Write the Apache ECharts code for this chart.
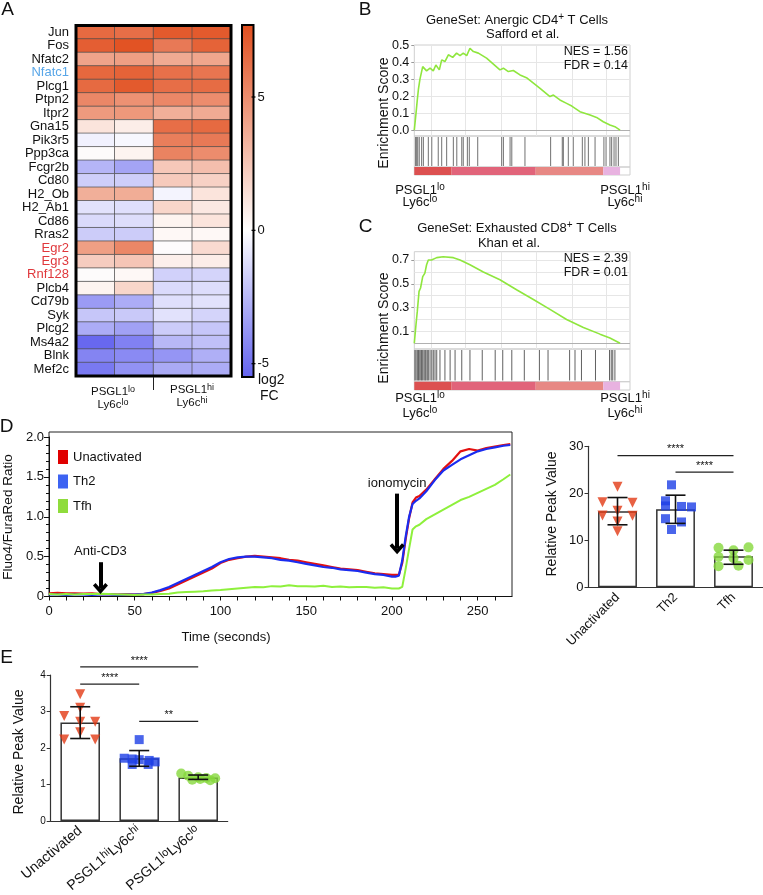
<!DOCTYPE html>
<html><head><meta charset="utf-8"><title>Figure</title>
<script src="https://cdn.jsdelivr.net/npm/echarts@6.0.0/dist/echarts.min.js"></script>
<style>html,body{margin:0;padding:0;background:#fff;}#chart{width:763px;height:895px;}</style>
</head><body><div id="chart"></div>
<script>
// ================= DATA =================
// Panel A: heatmap (log2 FC)
const genes = ['Jun','Fos','Nfatc2','Nfatc1','Plcg1','Ptpn2','Itpr2','Gna15','Pik3r5','Ppp3ca','Fcgr2b','Cd80','H2_Ob','H2_Ab1','Cd86','Rras2','Egr2','Egr3','Rnf128','Plcb4','Cd79b','Syk','Plcg2','Ms4a2','Blnk','Mef2c'];
const heatColumns = ['lo_1','lo_2','hi_1','hi_2'];
const heatLo1 = [6.5,7.0,4.0,6.6,6.5,5.2,4.4,1.2,-0.5,0.1,-2.6,-1.7,3.5,-1.0,-1.3,-1.8,4.2,2.2,0.1,0.5,-3.5,-2.0,-2.9,-5.3,-4.3,-4.7];
const heatLo2 = [6.3,7.5,4.2,6.8,7.2,4.8,4.5,0.8,-0.3,0.5,-3.2,-1.7,3.6,-1.1,-1.2,-1.8,5.2,2.5,0.3,1.8,-2.9,-1.9,-3.3,-4.4,-4.1,-3.8];
const heatHi1 = [7.2,5.8,3.7,6.2,6.3,5.2,3.5,6.3,5.6,5.4,2.4,2.3,-0.4,1.8,0.5,0.3,0.05,0.7,-1.6,-1.3,-1.1,-1.0,-1.8,-2.5,-3.7,-3.0];
const heatHi2 = [7.2,6.8,3.9,6.0,6.4,5.0,3.7,6.5,5.8,5.0,2.8,2.0,1.2,1.0,1.2,0.3,1.6,0.8,-1.5,-1.2,-1.0,-1.5,-2.0,-2.2,-2.8,-2.9];
const heatMin = -5.5, heatMax = 7.7;
const colorbarTicks = [5, 0, -5];
const geneLabelColors = {Nfatc1:'#58a6e8', Egr2:'#e0383c', Egr3:'#e0383c', Rnf128:'#e0383c'};

// Panel B: GSEA anergic CD4
const gseaB_rank = [0,0.8,1.4,1.9,2.6,3.9,5.7,7.3,8.8,10,11.6,12.7,14.2,15.8,17.8,19.6,21.2,22.7,24.3,25.8,27.4,29.7,33.5,39.7,41.3,43.6,45.9,49,52,58.3,62.9,64.5,67.5,70.6,73,76.8,81.5,84.5,87.6,90.7,93,95.4];
const gseaB_es = [0,0.1,0.18,0.24,0.3,0.375,0.35,0.366,0.35,0.385,0.356,0.415,0.405,0.445,0.43,0.455,0.44,0.455,0.44,0.484,0.464,0.455,0.425,0.356,0.366,0.346,0.352,0.326,0.31,0.247,0.198,0.207,0.178,0.158,0.142,0.109,0.089,0.075,0.049,0.03,0.02,0];
const gseaB_hits = [0.6,1.1,1.6,2.3,3.4,4.2,6.5,8.1,11.1,12.7,15,18.1,19.7,22,22.7,24.6,25.5,29.4,40.5,41.3,44.4,45.2,51.3,63.2,68.6,69.1,71.4,73.7,77.9,79.1,80.7,83.8,87.9,88.9,90.7,91.5,92.6,93.5,94.6];
const gseaB_ticks = [0,0.1,0.2,0.3,0.4,0.5];

// Panel C: GSEA exhausted CD8
const gseaC_rank = [0,0.8,1.4,2.2,2.9,3.9,4.9,5.7,6.5,8,10.4,13.4,18.1,21.2,25.8,32,39.7,47.4,55.2,62.9,70.6,78.4,86.1,90.7,95.4];
const gseaC_es = [0,0.16,0.27,0.437,0.465,0.56,0.59,0.66,0.7,0.7,0.72,0.728,0.72,0.7,0.66,0.6,0.534,0.45,0.368,0.285,0.2,0.133,0.077,0.044,0];
const gseaC_hits = [0.3,0.8,1.4,1.9,2.3,3,3.4,3.9,4.5,5,5.4,6,6.5,7.3,8.1,8.8,9.6,10.4,11.9,14.2,16.6,18.9,22,25.8,31.5,37.5,41,45.2,51,58,62,72,74.5,77.5,84,90.5,91.3,92,93];
const gseaC_ticks = [0,0.1,0.3,0.5,0.7];

const gseaGridX = [7.7,23.5,40.5,56.7,73,89.2];
const gseaBandEdges = [0,17.3,56.3,87.6,95.4];

// Panel D: calcium flux
const timeSec = [0,5,10,15,20,25,30,35,40,45,50,55,60,65,70,75,80,85,90,95,100,105,110,115,120,125,130,135,140,145,150,155,160,165,170,175,180,185,190,195,200,202,204,206,208,210,212,214,216,220,225,230,235,240,245,250,255,260,265,269];
const unactRatio = [0.04,0.045,0.04,0.04,0.035,0.04,0.03,0.03,0.025,0.03,0.025,0.03,0.045,0.07,0.1,0.15,0.2,0.25,0.3,0.35,0.42,0.46,0.48,0.5,0.51,0.5,0.49,0.48,0.46,0.45,0.43,0.41,0.39,0.37,0.35,0.34,0.33,0.31,0.29,0.28,0.27,0.27,0.27,0.42,0.72,0.98,1.18,1.24,1.26,1.34,1.47,1.6,1.7,1.82,1.85,1.83,1.86,1.88,1.9,1.91];
const th2Ratio = [0.025,0.025,0.02,0.025,0.025,0.02,0.025,0.025,0.02,0.025,0.025,0.03,0.05,0.08,0.12,0.17,0.22,0.27,0.32,0.37,0.43,0.47,0.49,0.5,0.5,0.49,0.48,0.46,0.45,0.43,0.41,0.39,0.37,0.36,0.34,0.33,0.32,0.3,0.28,0.27,0.25,0.25,0.26,0.45,0.75,1.0,1.16,1.2,1.23,1.32,1.46,1.58,1.65,1.72,1.77,1.82,1.85,1.87,1.89,1.9];
const tfhRatio = [0.03,0.025,0.03,0.025,0.03,0.03,0.035,0.03,0.025,0.025,0.02,0.025,0.025,0.03,0.035,0.05,0.055,0.06,0.065,0.075,0.08,0.09,0.1,0.11,0.12,0.115,0.13,0.125,0.14,0.13,0.13,0.125,0.135,0.12,0.125,0.115,0.12,0.12,0.11,0.115,0.1,0.1,0.1,0.12,0.35,0.6,0.84,0.88,0.9,0.97,1.03,1.09,1.15,1.21,1.25,1.3,1.35,1.4,1.47,1.53];

const dCats = ['Unactivated','Th2','Tfh'];
const dMeans = [16.2,16.6,6.6];
const dSdLow = [13.3,13.6,4.9];
const dSdHigh = [19.1,19.6,7.9];
const dPtsUnact = [21.4,18.1,18.0,16.3,15.3,15.2,14.0,11.9];
const dPtsTh2 = [21.8,18.4,17.3,17.2,17.1,14.6,13.9,12.3];
const dPtsTfh = [8.4,8.5,7.9,6.5,6.2,5.8,4.5,4.6];

// Panel E
const eCats = ['Unactivated','PSGL1^hi Ly6c^hi','PSGL1^lo Ly6c^lo'];
const eMeans = [2.7,1.72,1.19];
const eSdLow = [2.26,1.5,1.14];
const eSdHigh = [3.13,1.93,1.26];
const ePtsUnact = [3.47,3.1,2.88,2.72,2.72,2.43,2.23,2.23];
const ePtsHi = [2.23,1.72,1.7,1.68,1.66,1.62,1.55,1.55];
const ePtsLo = [1.3,1.24,1.2,1.18,1.17,1.15,1.13,1.12];

// ================= STYLE / LAYOUT =================
const FONT = '"Liberation Sans", Arial, Helvetica, sans-serif';
const INK = '#111';
// horizontal jitter (px) for dot plots, layout only
const jitterD = [[0,-15,15,0,-15,15,0,0],[-4,-10,-10,6,16,-10,6,-4],[-15,15,0,-15,0,15,-15,5]];
const jitterE = [[0,0,-16,15,0,0,-16,15],[0,-15,-7,0,10,16,-7,9],[-17,-10,0,8,17,2,-6,12]];
const bandColors = ['#dc5050','#e1647a','#e78884','#e8b2e0'];
const esColor = '#8fe63e';

function sup(str){
  return str.split(' ').map(p => { const a = p.split('^'); return '{n|' + a[0] + '}' + (a[1] ? '{s|' + a[1] + '}' : ''); }).join('');
}
function supRich(fs, sfs){
  return { n:{fontSize:fs, fontFamily:FONT, color:INK, lineHeight:fs+3},
           s:{fontSize:sfs, fontFamily:FONT, color:INK, lineHeight:Math.round(sfs*0.5), verticalAlign:'top'} };
}
function heatColor(v){
  const hi=[225,78,30], lo=[98,98,238];
  let t, c;
  if (v >= 0) { t = Math.min(1, v/heatMax); c = hi; } else { t = Math.min(1, v/heatMin); c = lo; }
  const m = k => Math.round(255 + (c[k]-255)*t);
  return 'rgb(' + m(0) + ',' + m(1) + ',' + m(2) + ')';
}
const heatStops = [];
for (let i = 0; i <= 44; i++) heatStops.push(heatColor(heatMin + (heatMax-heatMin)*i/44));

const heatData = [];
const heatCols = [heatLo1, heatLo2, heatHi1, heatHi2];
genes.forEach((g, r) => heatCols.forEach((col, c) => heatData.push([c, r, col[r]])));

function errRender(cap){
  return function(params, api){
    const x = api.value(0), lo = api.value(1), hi = api.value(2);
    const a = api.coord([x, lo]), b = api.coord([x, hi]);
    const st = {stroke:'#111', lineWidth:1.6};
    return {type:'group', children:[
      {type:'line', shape:{x1:a[0],y1:a[1],x2:b[0],y2:b[1]}, style:st},
      {type:'line', shape:{x1:a[0]-cap,y1:a[1],x2:a[0]+cap,y2:a[1]}, style:st},
      {type:'line', shape:{x1:b[0]-cap,y1:b[1],x2:b[0]+cap,y2:b[1]}, style:st}
    ]};
  };
}
function sigRender(labels){
  return function(params, api){
    const a = api.coord([api.value(0), api.value(2)]), b = api.coord([api.value(1), api.value(2)]);
    return {type:'group', children:[
      {type:'line', shape:{x1:a[0],y1:a[1],x2:b[0],y2:b[1]}, style:{stroke:'#222', lineWidth:1.3}},
      {type:'text', style:{text:labels[params.dataIndex], x:(a[0]+b[0])/2, y:a[1]-1, align:'center', verticalAlign:'bottom', fontSize:11, fontFamily:FONT, fill:INK}}
    ]};
  };
}
function bandRender(params, api){
  const p0 = api.coord([api.value(0), 1]), p1 = api.coord([api.value(1), 0]);
  return {type:'rect', shape:{x:p0[0], y:p0[1], width:p1[0]-p0[0], height:p1[1]-p0[1]}, style:{fill:bandColors[params.dataIndex]}};
}
const bandData = bandColors.map((c, i) => [gseaBandEdges[i], gseaBandEdges[i+1]]);

function pts(vals, cat, jit){ return vals.map((v, i) => ({value:[cat, v], symbolOffset:[jit[i], 0]})); }

const hidden = {show:false};
function hiddenX(grid, min, max){ return {type:'value', gridIndex:grid, min:min, max:max, show:false}; }
function hiddenY(grid, min, max){ return {type:'value', gridIndex:grid, min:min, max:max, show:false}; }
function esY(grid, min, max, ticks){
  return {type:'value', gridIndex:grid, min:min, max:max, splitLine:hidden, axisLine:hidden,
    axisTick:{show:true, customValues:ticks, length:3, lineStyle:{color:'#999'}},
    axisLabel:{customValues:ticks, formatter:v=>v.toFixed(1), fontSize:12.5, fontFamily:FONT, color:INK, margin:5}};
}
function esGridLines(ticksMax){
  const d = gseaGridX.map(x => ({xAxis:x}));
  for (let v = 1; v <= ticksMax; v++) d.push({yAxis:v/10});
  d.push({yAxis:0, lineStyle:{color:'#b0b0b0'}});
  return {silent:true, z:1, symbol:['none','none'], label:{show:false}, lineStyle:{color:'#e6e6e6', width:1, type:'solid'}, data:d};
}
const gseaL = 414.3, gseaW = 215.7;
const boxStyle = {show:true, borderColor:'#cfcfcf', borderWidth:1};

const catAxisCommon = {
  axisLine:{lineStyle:{color:'#333', width:1.2}},
  axisTick:{alignWithLabel:true, length:4, lineStyle:{color:'#333'}}
};

const option = {
  animation:false,
  backgroundColor:'#fff',
  textStyle:{fontFamily:FONT},
  grid:[
    {left:76, top:25.5, width:155, height:350.5},                 // 0 heatmap
    Object.assign({left:gseaL, top:45, width:gseaW, height:91}, boxStyle),     // 1 B ES
    Object.assign({left:gseaL, top:136, width:gseaW, height:31}, boxStyle),    // 2 B hits
    Object.assign({left:gseaL, top:167, width:gseaW, height:8}, boxStyle),     // 3 B band
    Object.assign({left:gseaL, top:251.7, width:gseaW, height:97.3}, boxStyle),// 4 C ES
    Object.assign({left:gseaL, top:349, width:gseaW, height:32.7}, boxStyle),  // 5 C hits
    Object.assign({left:gseaL, top:381.7, width:gseaW, height:8.3}, boxStyle), // 6 C band
    {left:49, top:437, width:463, height:159.5},                  // 7 D line
    {left:588.5, top:446.3, width:174, height:141},               // 8 D bar
    {left:50.7, top:675, width:177, height:148.3}                 // 9 E bar
  ],
  xAxis:[
    {type:'category', gridIndex:0, data:heatColumns, show:false},
    hiddenX(1,0,100), hiddenX(2,0,100), hiddenX(3,0,100),
    hiddenX(4,0,100), hiddenX(5,0,100), hiddenX(6,0,100),
    {type:'value', gridIndex:7, min:0, max:270, interval:10, splitLine:hidden,
      axisLine:{lineStyle:{color:'#111', width:1}}, axisTick:{length:4, lineStyle:{color:'#111'}},
      axisLabel:{formatter:v => (v % 50 === 0 ? String(v) : ''), fontSize:13, color:INK, margin:8, showMaxLabel:false}},
    Object.assign({type:'category', gridIndex:8, data:dCats,
      axisLabel:{interval:0, rotate:45, fontSize:13, color:INK, margin:8}}, catAxisCommon),
    Object.assign({type:'category', gridIndex:9, data:eCats,
      axisLabel:{interval:0, rotate:40, margin:8, formatter:v => sup(v), rich:supRich(14, 11)}}, catAxisCommon)
  ],
  yAxis:[
    {type:'category', gridIndex:0, data:genes, inverse:true, axisLine:hidden, axisTick:hidden,
      axisLabel:{interval:0, fontSize:13, margin:7, color:v => geneLabelColors[v] || INK}},
    esY(1, -0.035, 0.503, gseaB_ticks), hiddenY(2,0,1), hiddenY(3,0,1),
    esY(4, -0.048, 0.77, gseaC_ticks), hiddenY(5,0,1), hiddenY(6,0,1),
    {type:'value', gridIndex:7, min:0, max:2, interval:0.5, splitLine:hidden,
      axisLine:{show:true, lineStyle:{color:'#111'}}, axisTick:{show:true, length:5, lineStyle:{color:'#111'}},
      minorTick:{show:true, splitNumber:5, length:3, lineStyle:{color:'#111'}},
      axisLabel:{formatter:v => (v === 0 ? '0' : v.toFixed(1)), fontSize:13, color:INK, margin:5}},
    {type:'value', gridIndex:8, min:0, max:30, interval:10, splitLine:hidden,
      axisLine:{show:true, lineStyle:{color:'#333', width:1.2}}, axisTick:{show:true, length:4, lineStyle:{color:'#333'}},
      axisLabel:{fontSize:13, color:INK, margin:5}},
    {type:'value', gridIndex:9, min:0, max:4, interval:1, splitLine:hidden,
      axisLine:{show:true, lineStyle:{color:'#333', width:1.2}}, axisTick:{show:true, length:4, lineStyle:{color:'#333'}},
      axisLabel:{fontSize:10, color:INK, margin:5}}
  ],
  visualMap:[{type:'continuous', show:false, seriesIndex:0, dimension:2, min:heatMin, max:heatMax, inRange:{color:heatStops}}],
  legend:{orient:'vertical', left:53, top:445, itemWidth:10, itemHeight:14, itemGap:10.5, icon:'rect', selectedMode:false,
    textStyle:{fontSize:13, color:INK, fontFamily:FONT},
    data:[{name:'Unactivated', itemStyle:{color:'#e00000'}}, {name:'Th2', itemStyle:{color:'#3d63f2'}}, {name:'Tfh', itemStyle:{color:'#8fdc3c'}}]},
  series:[
    {type:'heatmap', xAxisIndex:0, yAxisIndex:0, data:heatData, itemStyle:{borderColor:'#4a4a4a', borderWidth:0.7}, emphasis:{disabled:true}},
    // B
    {type:'line', name:'esB', xAxisIndex:1, yAxisIndex:1, z:3, data:gseaB_rank.map((x,i)=>[x, gseaB_es[i]]), showSymbol:false, lineStyle:{color:esColor, width:1.6}, markLine:esGridLines(5)},
    {type:'scatter', name:'hitsB', xAxisIndex:2, yAxisIndex:2, data:gseaB_hits.map(h=>[h,0.5]), symbol:'rect', symbolSize:[1,29], itemStyle:{color:'#4d4d4d'}, silent:true},
    {type:'custom', name:'bandB', xAxisIndex:3, yAxisIndex:3, data:bandData, renderItem:bandRender, silent:true},
    // C
    {type:'line', name:'esC', xAxisIndex:4, yAxisIndex:4, z:3, data:gseaC_rank.map((x,i)=>[x, gseaC_es[i]]), showSymbol:false, lineStyle:{color:esColor, width:1.6}, markLine:esGridLines(7)},
    {type:'scatter', name:'hitsC', xAxisIndex:5, yAxisIndex:5, data:gseaC_hits.map(h=>[h,0.5]), symbol:'rect', symbolSize:[1,30.5], itemStyle:{color:'#3a3a3a'}, silent:true},
    {type:'custom', name:'bandC', xAxisIndex:6, yAxisIndex:6, data:bandData, renderItem:bandRender, silent:true},
    // D line
    {type:'line', name:'Unactivated', xAxisIndex:7, yAxisIndex:7, data:timeSec.map((t,i)=>[t, unactRatio[i]]), showSymbol:false, color:'#e31010', lineStyle:{color:'#e31010', width:2.2},
      markLine:{silent:true, symbol:['none','path://M0,10 L10,0 L20,10 L16.5,13 L10,6.5 L3.5,13 Z'], symbolSize:[15,11], lineStyle:{color:'#000', width:4, type:'solid'},
        label:{show:true, position:'start', formatter:'{b}', fontSize:13, color:INK, fontFamily:FONT, distance:4},
        data:[[{coord:[30,0.43], name:'Anti-CD3'},{coord:[30,0.1]}],[{coord:[203,1.29], name:'ionomycin'},{coord:[203,0.6]}]]}},
    {type:'line', name:'Th2', xAxisIndex:7, yAxisIndex:7, data:timeSec.map((t,i)=>[t, th2Ratio[i]]), showSymbol:false, color:'#1a2cf0', lineStyle:{color:'#1a2cf0', width:2.2}},
    {type:'line', name:'Tfh', xAxisIndex:7, yAxisIndex:7, data:timeSec.map((t,i)=>[t, tfhRatio[i]]), showSymbol:false, color:'#8ef03c', lineStyle:{color:'#8ef03c', width:2}},
    // D bars
    {type:'bar', name:'dBars', xAxisIndex:8, yAxisIndex:8, data:dMeans, barWidth:'67%', itemStyle:{color:'#fff', borderColor:'#333', borderWidth:1.5}, silent:true},
    {type:'scatter', name:'dP0', xAxisIndex:8, yAxisIndex:8, data:pts(dPtsUnact,0,jitterD[0]), symbol:'triangle', symbolRotate:180, symbolSize:10, itemStyle:{color:'#e23a14'}},
    {type:'scatter', name:'dP1', xAxisIndex:8, yAxisIndex:8, data:pts(dPtsTh2,1,jitterD[1]), symbol:'rect', symbolSize:9, itemStyle:{color:'#1d3ee6'}},
    {type:'scatter', name:'dP2', xAxisIndex:8, yAxisIndex:8, data:pts(dPtsTfh,2,jitterD[2]), symbol:'circle', symbolSize:10, itemStyle:{color:'#86d83c'}},
    {type:'custom', name:'dErr', xAxisIndex:8, yAxisIndex:8, data:dCats.map((c,i)=>[i, dSdLow[i], dSdHigh[i]]), encode:{x:0, y:[1,2]}, renderItem:errRender(10), z:5},
    {type:'custom', name:'dSig', xAxisIndex:8, yAxisIndex:8, data:[[0,2,28],[1,2,24.5]], encode:{x:0, y:2}, renderItem:sigRender(['****','****']), z:5},
    // E bars
    {type:'bar', name:'eBars', xAxisIndex:9, yAxisIndex:9, data:eMeans, barWidth:'67%', itemStyle:{color:'#fff', borderColor:'#333', borderWidth:1.5}, silent:true},
    {type:'scatter', name:'eP0', xAxisIndex:9, yAxisIndex:9, data:pts(ePtsUnact,0,jitterE[0]), symbol:'triangle', symbolRotate:180, symbolSize:10, itemStyle:{color:'#e23a14'}},
    {type:'scatter', name:'eP1', xAxisIndex:9, yAxisIndex:9, data:pts(ePtsHi,1,jitterE[1]), symbol:'rect', symbolSize:9, itemStyle:{color:'#1d3ee6'}},
    {type:'scatter', name:'eP2', xAxisIndex:9, yAxisIndex:9, data:pts(ePtsLo,2,jitterE[2]), symbol:'circle', symbolSize:10, itemStyle:{color:'#86d83c'}},
    {type:'custom', name:'eErr', xAxisIndex:9, yAxisIndex:9, data:eCats.map((c,i)=>[i, eSdLow[i], eSdHigh[i]]), encode:{x:0, y:[1,2]}, renderItem:errRender(10), z:5},
    {type:'custom', name:'eSig', xAxisIndex:9, yAxisIndex:9, data:[[0,2,4.22],[0,1,3.75],[1.05,2.05,2.73]], encode:{x:0, y:2}, renderItem:sigRender(['****','****','**']), z:5}
  ]
};

// ---------- decorations ----------
const g = [];
function txt(x, y, text, o){
  o = o || {};
  const el = {type:'text', x:x, y:y, z:100, rotation:o.rotation || 0,
    style:{text:text, align:o.align || 'center', verticalAlign:o.va || 'middle', fontSize:o.fs || 13, fontFamily:FONT, fill:o.color || INK, fontWeight:o.fw || 'normal'}};
  if (o.rich) el.style.rich = o.rich;
  g.push(el);
}
// panel letters
txt(7.5, 10, 'A', {fs:19}); txt(365, 9.5, 'B', {fs:19}); txt(365.5, 226.5, 'C', {fs:19});
txt(6.5, 426.5, 'D', {fs:19}); txt(6.5, 658, 'E', {fs:19});
// heatmap frame
g.push({type:'rect', z:100, shape:{x:76, y:25.5, width:155, height:350.5}, style:{fill:'none', stroke:'#000', lineWidth:3}});
g.push({type:'line', z:100, shape:{x1:153.5, y1:377, x2:153.5, y2:390}, style:{stroke:'#222', lineWidth:1}});
const hr = supRich(11.5, 9);
txt(113, 392, sup('PSGL1^lo'), {rich:hr}); txt(113, 405, sup('Ly6c^lo'), {rich:hr});
txt(192, 390, sup('PSGL1^hi'), {rich:hr}); txt(192, 403, sup('Ly6c^hi'), {rich:hr});
// colorbar
const cbX = 242, cbY = 25, cbW = 11.5, cbH = 352;
g.push({type:'rect', z:100, shape:{x:cbX, y:cbY, width:cbW, height:cbH},
  style:{stroke:'#000', lineWidth:2, fill:{type:'linear', x:0, y:0, x2:0, y2:1,
    colorStops:[{offset:0, color:heatColor(heatMax)}, {offset:heatMax/(heatMax-heatMin), color:'#fff'}, {offset:1, color:heatColor(heatMin)}]}}});
colorbarTicks.forEach(v => {
  const y = cbY + (heatMax - v)/(heatMax - heatMin)*cbH;
  g.push({type:'line', z:101, shape:{x1:cbX+cbW-2, y1:y, x2:cbX+cbW+2, y2:y}, style:{stroke:'#000', lineWidth:1.2}});
  txt(cbX+cbW+4, y, String(v), {align:'left', fs:13});
});
txt(258, 380, 'log2', {align:'left', fs:14}); txt(260, 396, 'FC', {align:'left', fs:14});
// GSEA texts
const tr = supRich(13, 10);
txt(517, 20, '{n|GeneSet: Anergic CD4}{s|+}{n| T Cells}', {rich:tr});
txt(522.7, 34.5, 'Safford et al.', {fs:13});
txt(628, 52, 'NES = 1.56', {align:'right', fs:12.5}); txt(628, 66, 'FDR = 0.14', {align:'right', fs:12.5});
txt(384, 113, 'Enrichment Score', {rotation:Math.PI/2, fs:14});
txt(420, 190, sup('PSGL1^lo'), {rich:tr}); txt(420, 202, sup('Ly6c^lo'), {rich:tr});
txt(625, 190, sup('PSGL1^hi'), {rich:tr}); txt(625, 202, sup('Ly6c^hi'), {rich:tr});
txt(517, 228, '{n|GeneSet: Exhausted CD8}{s|+}{n| T Cells}', {rich:tr});
txt(509, 243, 'Khan et al.', {fs:13});
txt(628, 259, 'NES = 2.39', {align:'right', fs:12.5}); txt(628, 273, 'FDR = 0.01', {align:'right', fs:12.5});
txt(384, 328, 'Enrichment Score', {rotation:Math.PI/2, fs:14});
txt(420, 398.5, sup('PSGL1^lo'), {rich:tr}); txt(420, 413, sup('Ly6c^lo'), {rich:tr});
txt(625, 398.5, sup('PSGL1^hi'), {rich:tr}); txt(625, 413, sup('Ly6c^hi'), {rich:tr});
// D
g.push({type:'rect', z:0, shape:{x:49, y:432, width:463, height:164.5}, style:{fill:'none', stroke:'#222', lineWidth:1}});
txt(8, 517, 'Fluo4/FuraRed Ratio', {rotation:Math.PI/2, fs:13.5});
txt(226, 637, 'Time (seconds)', {fs:13});
txt(552, 514, 'Relative Peak Value', {rotation:Math.PI/2, fs:14});
// E
txt(19, 752, 'Relative Peak Value', {rotation:Math.PI/2, fs:14});
option.graphic = {elements:g};

const chart = echarts.init(document.getElementById('chart'), null, {renderer:'canvas'});
chart.setOption(option);
</script></body></html>
